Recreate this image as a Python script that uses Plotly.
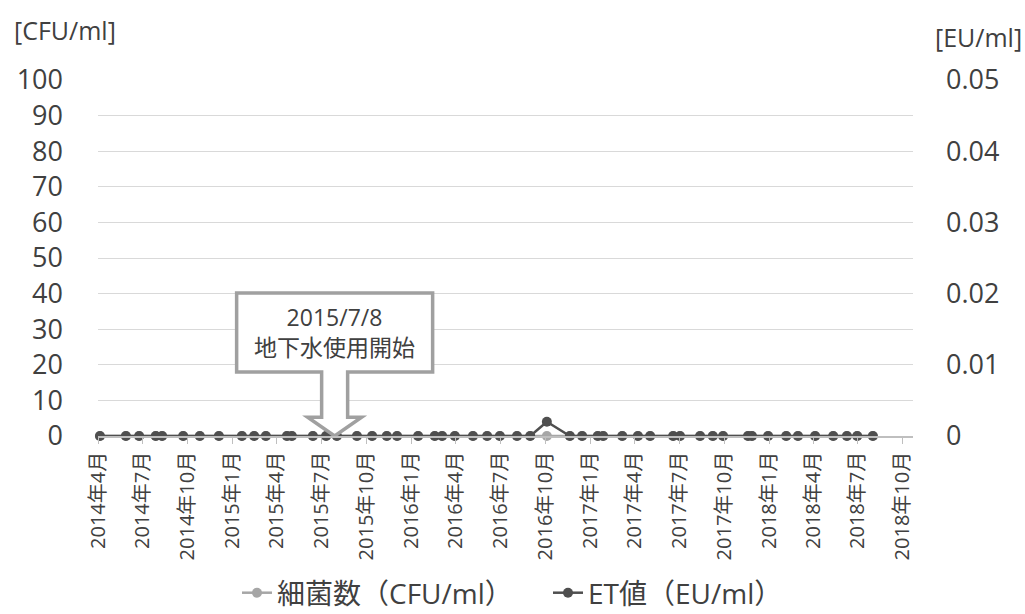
import plotly.graph_objects as go
import pandas as pd

# Sampling dates (roughly monthly) and measured values
dates = [
    "2014-04-05", "2014-05-28", "2014-06-24", "2014-07-28", "2014-08-10",
    "2014-09-22", "2014-10-26", "2014-12-04", "2015-01-20", "2015-02-14",
    "2015-03-10", "2015-04-22", "2015-05-02", "2015-06-14", "2015-07-11",
    "2015-08-02", "2015-09-12", "2015-10-13", "2015-11-12", "2015-12-03",
    "2016-01-15", "2016-02-18", "2016-03-04", "2016-03-30", "2016-05-06",
    "2016-06-04", "2016-06-30", "2016-08-04", "2016-08-31", "2016-10-04",
    "2016-11-20", "2016-12-15", "2017-01-16", "2017-01-27", "2017-03-07",
    "2017-04-08", "2017-05-03", "2017-06-19", "2017-07-03", "2017-08-13",
    "2017-09-08", "2017-09-29", "2017-11-19", "2017-11-27", "2017-12-30",
    "2018-02-05", "2018-03-01", "2018-04-05", "2018-05-12", "2018-06-09",
    "2018-06-30", "2018-08-01",
]
bacteria_cfu = [0] * len(dates)
et_eu = [0] * len(dates)
et_eu[dates.index("2016-10-04")] = 0.002

# Quarterly tick positions and labels
tick_dates = pd.date_range("2014-04-01", "2018-10-01", freq="3MS")
tick_text = [f"{d.year}年{d.month}月" for d in tick_dates]

left_vals = list(range(0, 101, 10))
right_vals = [0, 0.01, 0.02, 0.03, 0.04, 0.05]
right_text = ["0", "0.01", "0.02", "0.03", "0.04", "0.05"]

x_start, x_end = "2014-04-01", "2018-10-22"
event_date = "2015-07-08"
event_label = "2015/7/8<br>地下水使用開始"

FONT = "Open Sans, Noto Sans CJK JP"
TXT = "#404040"

fig = go.Figure()
fig.add_trace(go.Scatter(
    x=dates, y=bacteria_cfu, name="細菌数（CFU/ml）", mode="lines+markers",
    line=dict(color="#a6a6a6", width=2.5), marker=dict(size=10, color="#a6a6a6"),
    cliponaxis=False,
))
fig.add_trace(go.Scatter(
    x=dates, y=et_eu, name="ET値（EU/ml）", mode="lines+markers", yaxis="y2",
    line=dict(color="#4f4f4f", width=2.5), marker=dict(size=10, color="#4f4f4f"),
    cliponaxis=False,
))

# Callout box with a downward block arrow pointing at the event date
t0 = pd.Timestamp(x_start)
t1 = pd.Timestamp(x_end)
pw = 815.0  # plot width in px, used to size the callout
ex = float((pd.Timestamp(event_date) - t0) / (t1 - t0)) + 10 / pw
hb, hs, hh = 98 / pw, 13 / pw, 27 / pw
yb_top, yb_bot, y_head = 40.2, 18.0, 5.3
path = (
    f"M {ex-hb},{yb_top} L {ex+hb},{yb_top} L {ex+hb},{yb_bot} "
    f"L {ex+hs},{yb_bot} L {ex+hs},{y_head} L {ex+hh},{y_head} L {ex},0 "
    f"L {ex-hh},{y_head} L {ex-hs},{y_head} L {ex-hs},{yb_bot} "
    f"L {ex-hb},{yb_bot} Z"
)
fig.add_shape(type="path", path=path, xref="paper", yref="y",
              line=dict(color="#a0a0a0", width=3.5), fillcolor="white",
              layer="above")
fig.add_annotation(x=ex, y=(yb_top + yb_bot) / 2, xref="paper", yref="y",
                   xanchor="center", yanchor="middle",
                   text=event_label, showarrow=False,
                   font=dict(family=FONT, size=23, color=TXT))

# Axis unit labels
fig.add_annotation(x=(12 - 98) / pw, y=(436 - 30) / 356, xref="paper", yref="paper",
                   text="[CFU/ml]", showarrow=False, xanchor="left", yanchor="middle",
                   font=dict(family=FONT, size=25, color=TXT))
fig.add_annotation(x=(1024 - 98) / pw, y=(436 - 37) / 356, xref="paper", yref="paper",
                   text="[EU/ml]", showarrow=False, xanchor="right", yanchor="middle",
                   font=dict(family=FONT, size=25, color=TXT))

fig.update_layout(
    width=1025, height=614,
    margin=dict(l=98, r=112, t=80, b=178, autoexpand=False),
    paper_bgcolor="white", plot_bgcolor="white",
    font=dict(family=FONT, color=TXT),
    showlegend=True,
    legend=dict(orientation="h", x=(237 - 98) / pw, y=(436 - 593) / 356,
                xanchor="left", yanchor="middle",
                font=dict(family=FONT, size=28, color=TXT),
                itemwidth=30, tracegroupgap=0, entrywidth=266),
    xaxis=dict(
        type="date", range=[x_start, x_end],
        tickvals=list(tick_dates), ticktext=tick_text, tickangle=-90,
        tickfont=dict(family=FONT, size=20, color=TXT),
        showgrid=False, showline=True, linecolor="#bfbfbf", linewidth=1.5,
        ticks="outside", ticklen=6, tickcolor="#bfbfbf", zeroline=False,
    ),
    yaxis=dict(
        range=[0, 100], tickvals=left_vals,
        tickfont=dict(family=FONT, size=27, color=TXT),
        showgrid=True, gridcolor="#d9d9d9", gridwidth=1,
        zeroline=False, showline=False, ticklabelstandoff=34,
    ),
    yaxis2=dict(
        range=[0, 0.05], tickvals=right_vals, ticktext=right_text,
        overlaying="y", side="right",
        tickfont=dict(family=FONT, size=27, color=TXT),
        showgrid=False, zeroline=False, showline=False, ticklabelstandoff=32,
    ),
)

fig.write_html("out.html")
